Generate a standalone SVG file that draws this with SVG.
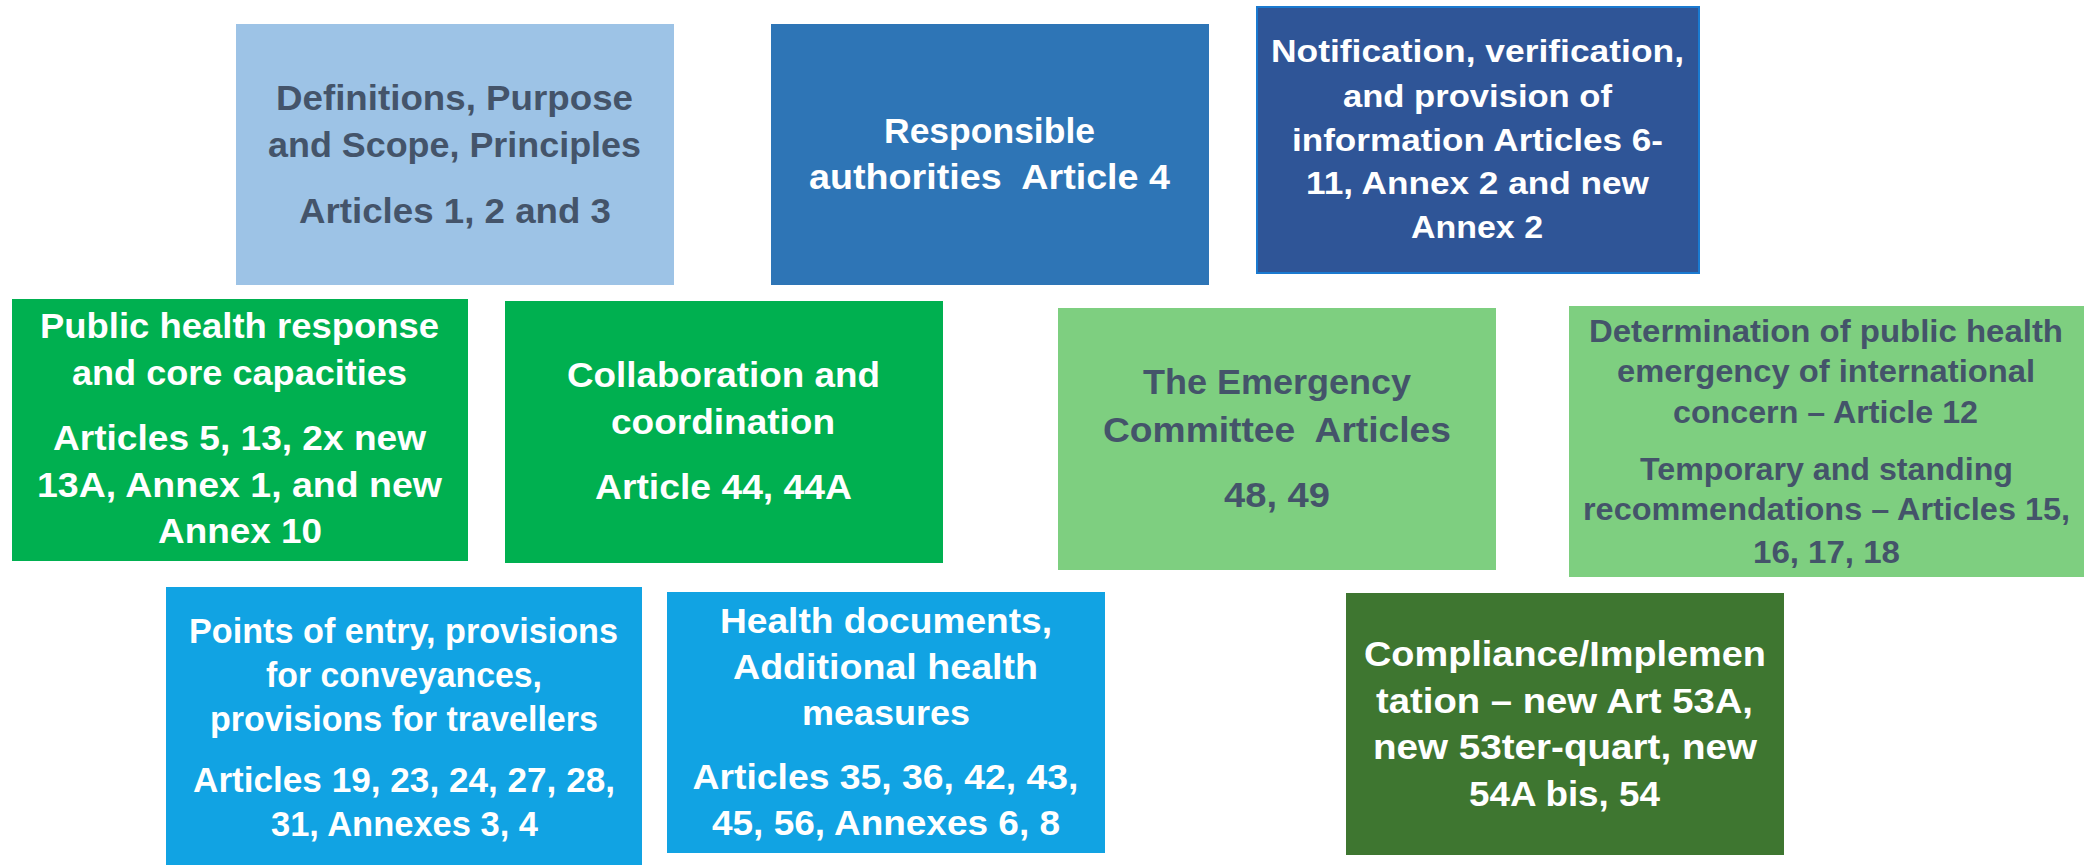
<svg xmlns="http://www.w3.org/2000/svg" width="2084" height="865" viewBox="0 0 2084 865">
<style>
text{font-family:"Liberation Sans",Arial,sans-serif;font-weight:bold;text-anchor:middle;font-size:35px;}
.w{fill:#FFFFFF;}
.d{fill:#44546A;}
.s{font-size:32px;}
.t{font-size:31px;}
</style>
<rect width="2084" height="865" fill="#FFFFFF"/>
<g id="connectors"/>
<g id="n1">
<rect x="236" y="24" width="438" height="261" fill="#9DC3E6"/>
<text class="d" x="454.5" y="110" textLength="357" lengthAdjust="spacingAndGlyphs">Definitions, Purpose</text>
<text class="d" x="454.5" y="157" textLength="373" lengthAdjust="spacingAndGlyphs">and Scope, Principles</text>
<text class="d" x="455" y="223" textLength="312" lengthAdjust="spacingAndGlyphs">Articles 1, 2 and 3</text>
</g>
<g id="n2">
<rect x="771" y="24" width="438" height="261" fill="#2E75B6"/>
<text class="w" x="989.5" y="143" textLength="211" lengthAdjust="spacingAndGlyphs">Responsible</text>
<text class="w" x="989.5" y="189" textLength="361" lengthAdjust="spacingAndGlyphs" xml:space="preserve">authorities  Article 4</text>
</g>
<g id="n3">
<rect x="1257" y="7" width="442" height="266" fill="#2F5597" stroke="#1A7AD0" stroke-width="2"/>
<text class="w s" x="1477.5" y="62" textLength="413" lengthAdjust="spacingAndGlyphs">Notification, verification,</text>
<text class="w s" x="1477.5" y="107" textLength="269" lengthAdjust="spacingAndGlyphs">and provision of</text>
<text class="w s" x="1477.5" y="151" textLength="371" lengthAdjust="spacingAndGlyphs">information Articles 6-</text>
<text class="w s" x="1477.5" y="194" textLength="343" lengthAdjust="spacingAndGlyphs">11, Annex 2 and new</text>
<text class="w s" x="1477" y="238" textLength="132" lengthAdjust="spacingAndGlyphs">Annex 2</text>
</g>
<g id="n4">
<rect x="12" y="299" width="456" height="262" fill="#00B050"/>
<text class="w" x="239.5" y="338" textLength="399" lengthAdjust="spacingAndGlyphs">Public health response</text>
<text class="w" x="239.5" y="385" textLength="335" lengthAdjust="spacingAndGlyphs">and core capacities</text>
<text class="w" x="239.5" y="450" textLength="373" lengthAdjust="spacingAndGlyphs">Articles 5, 13, 2x new</text>
<text class="w" x="239.5" y="497" textLength="405" lengthAdjust="spacingAndGlyphs">13A, Annex 1, and new</text>
<text class="w" x="240" y="543" textLength="164" lengthAdjust="spacingAndGlyphs">Annex 10</text>
</g>
<g id="n5">
<rect x="505" y="301" width="438" height="262" fill="#00B050"/>
<text class="w" x="723.5" y="387" textLength="313" lengthAdjust="spacingAndGlyphs">Collaboration and</text>
<text class="w" x="723" y="434" textLength="224" lengthAdjust="spacingAndGlyphs">coordination</text>
<text class="w" x="723.5" y="499" textLength="257" lengthAdjust="spacingAndGlyphs">Article 44, 44A</text>
</g>
<g id="n6">
<rect x="1058" y="308" width="438" height="262" fill="#7ECF80"/>
<text class="d" x="1277" y="394" textLength="268" lengthAdjust="spacingAndGlyphs">The Emergency</text>
<text class="d" x="1277" y="442" textLength="348" lengthAdjust="spacingAndGlyphs" xml:space="preserve">Committee  Articles</text>
<text class="d" x="1277" y="507" textLength="106" lengthAdjust="spacingAndGlyphs">48, 49</text>
</g>
<g id="n7">
<rect x="1569" y="306" width="515" height="271" fill="#7ECF80"/>
<text class="d t" x="1826" y="342" textLength="474" lengthAdjust="spacingAndGlyphs">Determination of public health</text>
<text class="d t" x="1826" y="382" textLength="418" lengthAdjust="spacingAndGlyphs">emergency of international</text>
<text class="d t" x="1825.5" y="423" textLength="305" lengthAdjust="spacingAndGlyphs">concern – Article 12</text>
<text class="d t" x="1826.5" y="480" textLength="373" lengthAdjust="spacingAndGlyphs">Temporary and standing</text>
<text class="d t" x="1826.5" y="520" textLength="487" lengthAdjust="spacingAndGlyphs">recommendations – Articles 15,</text>
<text class="d t" x="1826.5" y="563" textLength="147" lengthAdjust="spacingAndGlyphs">16, 17, 18</text>
</g>
<g id="n8">
<rect x="166" y="587" width="476" height="278" fill="#11A3E3"/>
<text class="w" x="403.5" y="643" textLength="429" lengthAdjust="spacingAndGlyphs">Points of entry, provisions</text>
<text class="w" x="404" y="687" textLength="276" lengthAdjust="spacingAndGlyphs">for conveyances,</text>
<text class="w" x="404" y="731" textLength="388" lengthAdjust="spacingAndGlyphs">provisions for travellers</text>
<text class="w" x="404" y="792" textLength="422" lengthAdjust="spacingAndGlyphs">Articles 19, 23, 24, 27, 28,</text>
<text class="w" x="404.5" y="836" textLength="267" lengthAdjust="spacingAndGlyphs">31, Annexes 3, 4</text>
</g>
<g id="n9">
<rect x="667" y="592" width="438" height="261" fill="#11A3E3"/>
<text class="w" x="886" y="633" textLength="332" lengthAdjust="spacingAndGlyphs">Health documents,</text>
<text class="w" x="885.5" y="679" textLength="305" lengthAdjust="spacingAndGlyphs">Additional health</text>
<text class="w" x="886" y="725" textLength="168" lengthAdjust="spacingAndGlyphs">measures</text>
<text class="w" x="885.5" y="789" textLength="386" lengthAdjust="spacingAndGlyphs">Articles 35, 36, 42, 43,</text>
<text class="w" x="886" y="835" textLength="348" lengthAdjust="spacingAndGlyphs">45, 56, Annexes 6, 8</text>
</g>
<g id="n10">
<rect x="1346" y="593" width="438" height="262" fill="#3E7630"/>
<text class="w" x="1565" y="666" textLength="402" lengthAdjust="spacingAndGlyphs">Compliance/Implemen</text>
<text class="w" x="1564.5" y="713" textLength="377" lengthAdjust="spacingAndGlyphs">tation – new Art 53A,</text>
<text class="w" x="1565" y="759" textLength="384" lengthAdjust="spacingAndGlyphs">new 53ter-quart, new</text>
<text class="w" x="1564.5" y="806" textLength="191" lengthAdjust="spacingAndGlyphs">54A bis, 54</text>
</g>
</svg>
